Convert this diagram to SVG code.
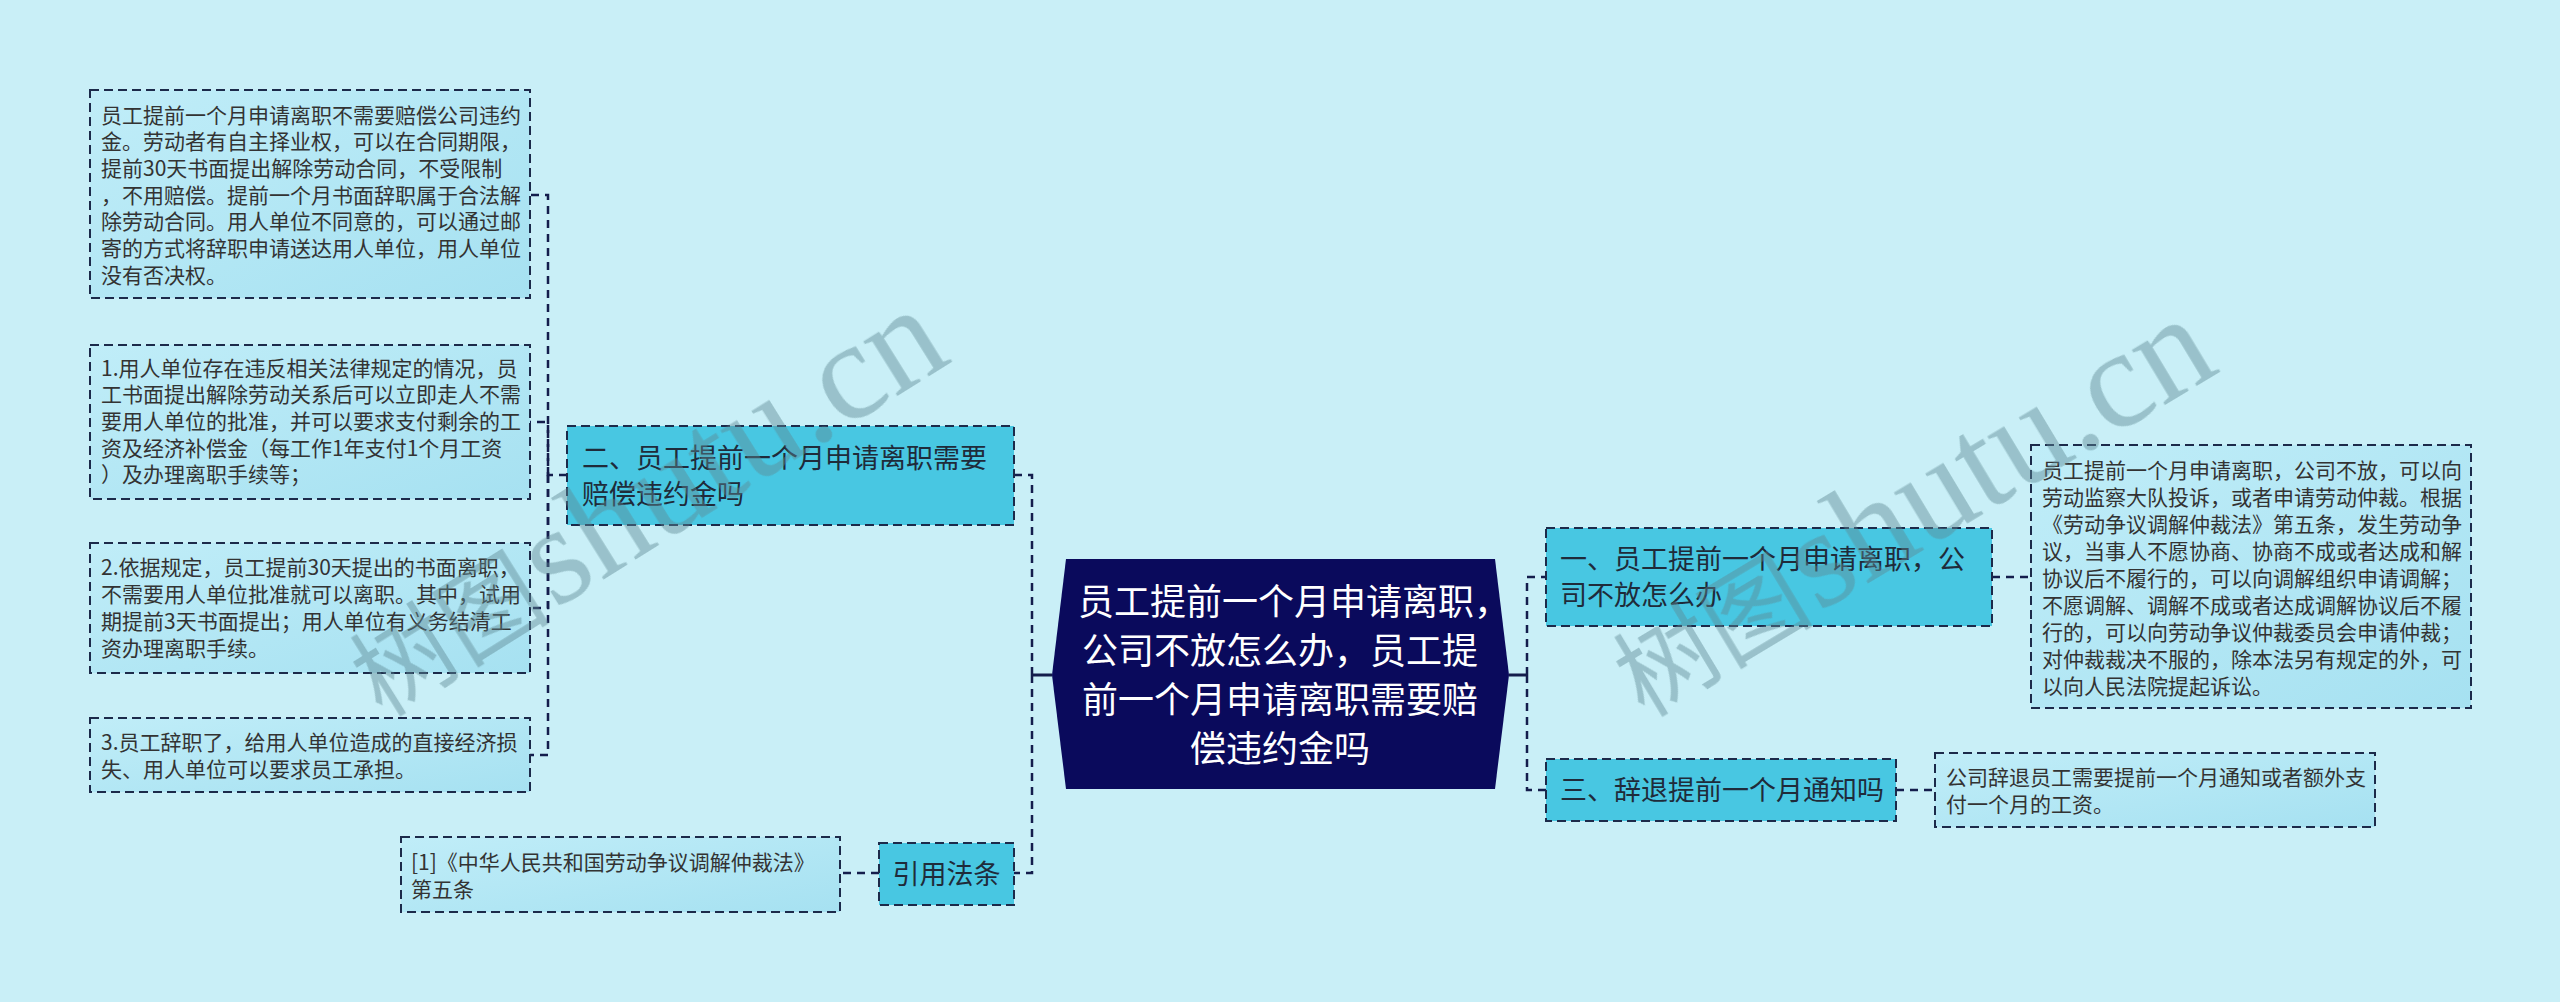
<svg xmlns="http://www.w3.org/2000/svg" width="2560" height="1002" viewBox="0 0 2560 1002">
<defs>
<linearGradient id="leafGrad" x1="0" y1="0" x2="1" y2="1">
<stop offset="0" stop-color="#c0edf8"/>
<stop offset="1" stop-color="#a6e1f1"/>
</linearGradient>
<style>
.leaf{fill:url(#leafGrad);stroke:#1c2a4a;stroke-width:2;stroke-dasharray:9 5}
.branch{fill:#48c7e2;stroke:#1c2a4a;stroke-width:2;stroke-dasharray:9 5}
.conn{fill:none;stroke:#141d4c;stroke-width:2.5;stroke-dasharray:8 6}
.solid{fill:none;stroke:#141d4c;stroke-width:3}
.lt{font-family:"Noto Sans CJK SC","Liberation Sans",sans-serif;font-size:21px;fill:#333333}
.bt{font-family:"Noto Sans CJK SC","Liberation Sans",sans-serif;font-size:27px;fill:#1f2b3a}
.ct{font-family:"Noto Sans CJK SC","Liberation Sans",sans-serif;font-size:36px;fill:#ffffff}
.wm{fill:#5f8a94;opacity:0.45}
.wmc{font-family:"Noto Sans CJK SC",serif;font-size:100px}
.wml{font-family:"Liberation Serif",serif;font-size:140px}
</style>
</defs>
<rect x="0" y="0" width="2560" height="1002" fill="#c9eff7"/>

<g id="connectors">
<path class="solid" d="M1052,675 H1032"/>
<path class="solid" d="M1509,675 H1527"/>
<path class="conn" d="M1032,675 V475 H1014"/>
<path class="conn" d="M1032,675 V873 H1014"/>
<path class="conn" d="M567,475 H548 V195 H530"/>
<path class="conn" d="M548,475 V422 H530"/>
<path class="conn" d="M548,475 V608 H530"/>
<path class="conn" d="M548,475 V755 H530"/>
<path class="conn" d="M879,873 H840"/>
<path class="conn" d="M1527,675 V577 H1546"/>
<path class="conn" d="M1527,675 V790 H1546"/>
<path class="conn" d="M1992,577 H2031"/>
<path class="conn" d="M1896,790 H1935"/>
</g>

<g id="central">
<polygon points="1052,675 1066,559 1495,559 1509,675 1495,789 1066,789" fill="#0a0a5c"/>
<text class="ct" x="1078" y="614.5">员工提前一个月申请离职，<tspan x="1082" dy="49">公司不放怎么办，员工提</tspan><tspan x="1082" dy="49">前一个月申请离职需要赔</tspan><tspan x="1190" dy="49">偿违约金吗</tspan></text>
</g>

<g id="branch-2">
<rect class="branch" x="567" y="426" width="447" height="99"/>
<text class="bt" x="582" y="467.5">二、员工提前一个月申请离职需要<tspan x="582" dy="36">赔偿违约金吗</tspan></text>
</g>

<g id="leaf-2-0">
<rect class="leaf" x="90" y="90" width="440" height="208"/>
<text class="lt" x="101" y="122.5">员工提前一个月申请离职不需要赔偿公司违约<tspan x="101" dy="26.7">金。劳动者有自主择业权，可以在合同期限，</tspan><tspan x="101" dy="26.7">提前30天书面提出解除劳动合同，不受限制</tspan><tspan x="101" dy="26.7">，不用赔偿。提前一个月书面辞职属于合法解</tspan><tspan x="101" dy="26.7">除劳动合同。用人单位不同意的，可以通过邮</tspan><tspan x="101" dy="26.7">寄的方式将辞职申请送达用人单位，用人单位</tspan><tspan x="101" dy="26.7">没有否决权。</tspan></text>
</g>

<g id="leaf-2-1">
<rect class="leaf" x="90" y="345" width="440" height="154"/>
<text class="lt" x="101" y="375.5">1.用人单位存在违反相关法律规定的情况，员<tspan x="101" dy="26.7">工书面提出解除劳动关系后可以立即走人不需</tspan><tspan x="101" dy="26.7">要用人单位的批准，并可以要求支付剩余的工</tspan><tspan x="101" dy="26.7">资及经济补偿金（每工作1年支付1个月工资</tspan><tspan x="101" dy="26.7">）及办理离职手续等；</tspan></text>
</g>

<g id="leaf-2-2">
<rect class="leaf" x="90" y="543" width="440" height="130"/>
<text class="lt" x="101" y="575">2.依据规定，员工提前30天提出的书面离职，<tspan x="101" dy="27">不需要用人单位批准就可以离职。其中，试用</tspan><tspan x="101" dy="27">期提前3天书面提出；用人单位有义务结清工</tspan><tspan x="101" dy="27">资办理离职手续。</tspan></text>
</g>

<g id="leaf-2-3">
<rect class="leaf" x="90" y="718" width="440" height="74"/>
<text class="lt" x="101" y="749.5">3.员工辞职了，给用人单位造成的直接经济损<tspan x="101" dy="27">失、用人单位可以要求员工承担。</tspan></text>
</g>

<g id="branch-ref">
<rect class="branch" x="879" y="843" width="135" height="62"/>
<text class="bt" x="946.5" y="883.5" text-anchor="middle">引用法条</text>
</g>

<g id="leaf-ref">
<rect class="leaf" x="401" y="837" width="439" height="75"/>
<text class="lt" x="411" y="870">[1]《中华人民共和国劳动争议调解仲裁法》<tspan x="411" dy="27">第五条</tspan></text>
</g>

<g id="branch-1">
<rect class="branch" x="1546" y="528" width="446" height="98"/>
<text class="bt" x="1560" y="568.5">一、员工提前一个月申请离职，公<tspan x="1560" dy="36">司不放怎么办</tspan></text>
</g>

<g id="leaf-1">
<rect class="leaf" x="2031" y="445" width="440" height="263"/>
<text class="lt" x="2042" y="477.5">员工提前一个月申请离职，公司不放，可以向<tspan x="2042" dy="27.1">劳动监察大队投诉，或者申请劳动仲裁。根据</tspan><tspan x="2042" dy="27.1">《劳动争议调解仲裁法》第五条，发生劳动争</tspan><tspan x="2042" dy="27.1">议，当事人不愿协商、协商不成或者达成和解</tspan><tspan x="2042" dy="27.1">协议后不履行的，可以向调解组织申请调解；</tspan><tspan x="2042" dy="27.1">不愿调解、调解不成或者达成调解协议后不履</tspan><tspan x="2042" dy="27.1">行的，可以向劳动争议仲裁委员会申请仲裁；</tspan><tspan x="2042" dy="27.1">对仲裁裁决不服的，除本法另有规定的外，可</tspan><tspan x="2042" dy="27.1">以向人民法院提起诉讼。</tspan></text>
</g>

<g id="branch-3">
<rect class="branch" x="1546" y="759" width="350" height="62"/>
<text class="bt" x="1560" y="799.5">三、辞退提前一个月通知吗</text>
</g>

<g id="leaf-3">
<rect class="leaf" x="1935" y="753" width="440" height="74"/>
<text class="lt" x="1946" y="784.5">公司辞退员工需要提前一个月通知或者额外支<tspan x="1946" dy="27">付一个月的工资。</tspan></text>
</g>

<g id="watermarks" class="wm">
<text transform="translate(382,718) rotate(-32)"><tspan class="wmc">树图</tspan><tspan class="wml" dx="4">shutu.cn</tspan></text>
<text transform="translate(1644,718) rotate(-31)"><tspan class="wmc">树图</tspan><tspan class="wml" dx="4">shutu.cn</tspan></text>
</g>
</svg>
